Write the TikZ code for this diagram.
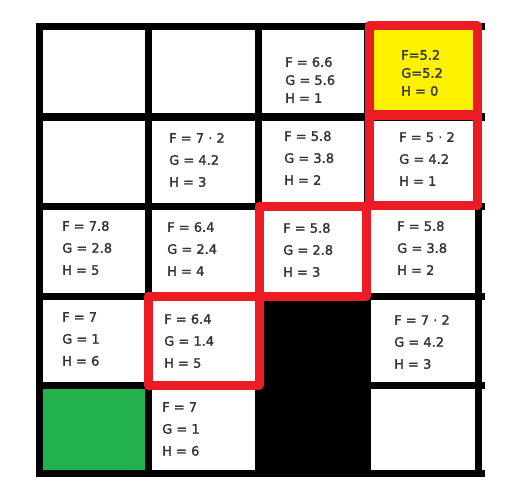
\documentclass[tikz,border=0pt]{standalone}
\usepackage{fontspec}
\setmainfont{DejaVu Sans}
\newfontfamily\cellfont[FakeBold=1.6]{DejaVu Sans}
\usetikzlibrary{positioning}
\begin{document}
\begin{tikzpicture}[x=1pt, y=-1pt,
  cellt/.style={anchor=west, align=left, inner sep=0pt, text=textgray, font=\cellfont\fontsize{13}{22}\selectfont},
  tightt/.style={font=\cellfont\fontsize{13}{18}\selectfont},
  gridline/.style={line width=7pt, black, line cap=rect},
  pathbox/.style={line width=9pt, draw=pathred, line join=round}]
\definecolor{textgray}{HTML}{333333}
\definecolor{goalyellow}{HTML}{FFF200}
\definecolor{startgreen}{HTML}{22B14C}
\definecolor{pathred}{HTML}{ED1C24}
\useasboundingbox[fill=white] (0,0) rectangle (524,500);
\fill[goalyellow] (367,27) rectangle (478,117);
\fill[startgreen] (39,385) rectangle (148,473);
\fill[black] (258,296) rectangle (367,473);
\foreach \x in {39,148,258,367,478}{\draw[gridline] (\x,27) -- (\x,473);}
\foreach \y in {27,117,206,296,385,473}{\draw[gridline] (39,\y) -- (481,\y);}
\draw[pathbox] (369,26) rectangle (477,115);
\draw[pathbox] (369,115) rectangle (477,205);
\draw[pathbox] (259,206) rectangle (366,296);
\draw[pathbox] (148,296) rectangle (259,385);
\node[cellt, tightt] (c20) at (285,80) {F = 6.6\\G = 5.6\\H = 1};
\node[cellt, tightt] (c30) at (401,73) {F=5.2\\G=5.2\\H = 0};
\node[cellt] (c11) at (169,160) {F = 7 · 2\\G = 4.2\\H = 3};
\node[cellt] (c21) at (284,158) {F = 5.8\\G = 3.8\\H = 2};
\node[cellt] (c31) at (399,159) {F = 5 · 2\\G = 4.2\\H = 1};
\node[cellt] (c02) at (62,248) {F = 7.8\\G = 2.8\\H = 5};
\node[cellt] (c12) at (167,249) {F = 6.4\\G = 2.4\\H = 4};
\node[cellt] (c22) at (283,250) {F = 5.8\\G = 2.8\\H = 3};
\node[cellt] (c32) at (397,248) {F = 5.8\\G = 3.8\\H = 2};
\node[cellt] (c03) at (62,339) {F = 7\\G = 1\\H = 6};
\node[cellt] (c13) at (164,341) {F = 6.4\\G = 1.4\\H = 5};
\node[cellt] (c33) at (394,342) {F = 7 · 2\\G = 4.2\\H = 3};
\node[cellt] (c14) at (162,429) {F = 7\\G = 1\\H = 6};
\end{tikzpicture}
\end{document}
